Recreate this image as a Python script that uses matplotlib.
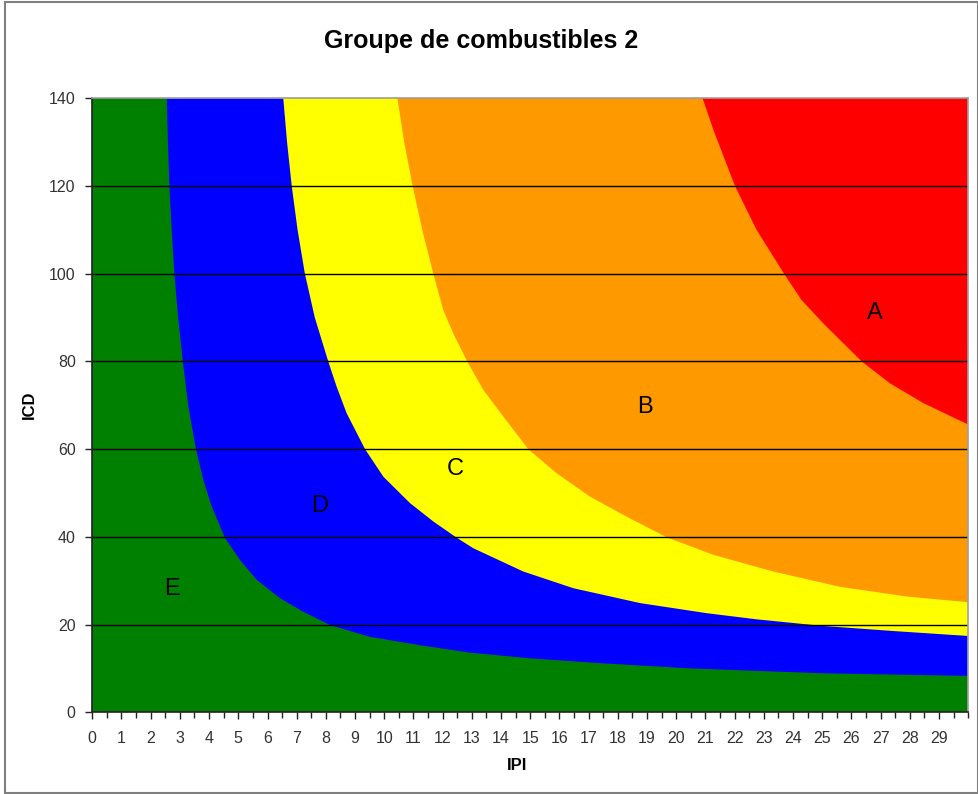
import matplotlib
matplotlib.use("Agg")
import matplotlib.pyplot as plt
from matplotlib.patches import Rectangle
from matplotlib.ticker import MultipleLocator
from matplotlib import font_manager

# ---- data: boundaries between classes (IPI, ICD) ----
ed_x = [2.55, 2.59, 2.64, 2.72, 2.81, 2.94, 3.10, 3.29, 3.55, 3.80, 4.09, 4.54, 5.06, 5.63,
        6.43, 7.23, 8.14, 9.51, 11.22, 12.93, 15.0, 17.39, 20.5, 25.0, 30.0]
ed_y = [140, 130, 120, 110, 100, 90, 80, 69.7, 60, 53.0, 46.9, 39.8, 34.7, 30.2,
        26.0, 22.9, 19.9, 17.2, 15.3, 13.6, 12.3, 11.2, 10.0, 8.9, 8.3]

dc_x = [6.54, 6.67, 6.83, 7.03, 7.28, 7.62, 8.08, 8.37, 8.71, 9.34, 9.97, 10.88, 11.68,
        12.48, 13.05, 14.76, 16.47, 18.76, 21.04, 22.75, 25.0, 27.5, 30.0]
dc_y = [140, 130, 120, 110, 100, 90, 80, 74.2, 68.2, 60, 53.7, 47.7, 43.5,
        39.8, 37.4, 32.1, 28.3, 24.9, 22.6, 21.2, 19.7, 18.5, 17.4]

cb_x = [10.45, 10.68, 10.97, 11.3, 11.68, 12.02, 12.36, 12.84, 13.39, 14.08, 14.93, 15.90,
        17.04, 18.30, 19.67, 21.27, 23.32, 25.61, 27.89, 30.0]
cb_y = [140, 130, 120, 110, 100, 91.7, 86.4, 80, 73.5, 67.4, 60, 54.5,
        49.2, 44.6, 39.9, 35.9, 32.1, 28.6, 26.4, 25.1]

ba_x = [20.9, 21.27, 22.01, 22.75, 23.69, 24.29, 25.03, 26.35, 27.32, 28.46, 30.0]
ba_y = [140, 132.8, 120, 110, 100, 94.0, 88.7, 80, 75.0, 70.5, 65.6]

class_labels = ["A", "B", "C", "D", "E"]
label_x = [26.8, 18.93, 12.42, 7.8, 2.73]
label_y = [91.0, 69.7, 55.5, 47.0, 28.1]

x_max = 30
y_max = 140
x_ticks = list(range(0, 30))
y_ticks = list(range(0, 141, 20))

title = "Groupe de combustibles 2"

# ---- figure ----
W, H = 979, 794
fig = plt.figure(figsize=(W / 100, H / 100), dpi=100)
fig.patch.set_facecolor("white")
fig.add_artist(Rectangle((5 / W, 1 - 793 / H), (978 - 5) / W, (793 - 2) / H,
                         transform=fig.transFigure, fill=False,
                         edgecolor="#7f7f7f", linewidth=1.5))

ax = fig.add_axes([92.3 / W, 1 - 712.3 / H, (968.3 - 92.3) / W, (712.3 - 98.3) / H])
ax.set_xlim(0, x_max)
ax.set_ylim(0, y_max)

colors = {"A": "#ff0000", "B": "#ff9900", "C": "#ffff00", "D": "#0000ff", "E": "#008000"}

ax.fill([0, 0, x_max, x_max], [0, y_max, y_max, 0], color=colors["A"], lw=0, zorder=1)
for bx, by, c in [(ba_x, ba_y, "B"), (cb_x, cb_y, "C"), (dc_x, dc_y, "D"), (ed_x, ed_y, "E")]:
    px = [0, 0] + list(bx) + [x_max]
    py = [0, y_max] + list(by) + [0]
    ax.fill(px, py, color=colors[c], lw=0, zorder=2)

for gy in y_ticks[1:-1]:
    ax.axhline(gy, color="black", lw=1.0, zorder=3)

for t, lx, ly in zip(class_labels, label_x, label_y):
    ax.text(lx, ly, t, ha="center", va="center", fontsize=17,
            family="Liberation Sans", color="black", zorder=4)

ax.set_xticks(x_ticks)
ax.set_xticklabels([str(v) for v in x_ticks])
ax.xaxis.set_minor_locator(MultipleLocator(0.5))
ax.set_yticks(y_ticks)
ax.set_yticklabels([str(v) for v in y_ticks])
ax.yaxis.set_minor_locator(MultipleLocator(5))

ax.tick_params(axis="x", which="major", direction="out", length=5, width=1,
               pad=8.5, labelsize=11.5, labelcolor="#333333", color="#222222")
ax.tick_params(axis="x", which="minor", direction="out", length=4, width=1, color="#222222")
ax.tick_params(axis="y", which="major", direction="out", length=5, width=1,
               pad=7, labelsize=11.5, labelcolor="#333333", color="#222222")
ax.tick_params(axis="y", which="minor", direction="in", length=4, width=1, color="#222222")
for lab in ax.get_xticklabels() + ax.get_yticklabels():
    lab.set_family("Liberation Sans")

for s in ["left", "bottom"]:
    ax.spines[s].set_color("#222222")
    ax.spines[s].set_linewidth(1.2)
for s in ["top", "right"]:
    ax.spines[s].set_color("#a0a0a0")
    ax.spines[s].set_linewidth(1.2)
for s in ax.spines.values():
    s.set_zorder(5)

fig.text(29 / W, 1 - 405 / H, "ICD", rotation=90, ha="center", va="center",
         fontsize=12, fontweight="bold", family="Liberation Sans")
fig.text(517 / W, 1 - 766 / H, "IPI", ha="center", va="center",
         fontsize=12, fontweight="bold", family="Liberation Sans")

names = {f.name for f in font_manager.fontManager.ttflist}
tfam = ["Liberation Sans Narrow", "Liberation Sans"] if "Liberation Sans Narrow" in names else ["Liberation Sans"]
fig.text(481 / W, 1 - 41 / H, title, ha="center", va="center",
         fontsize=18, fontweight="bold", family=tfam)

fig.savefig("out.png", dpi=100)
